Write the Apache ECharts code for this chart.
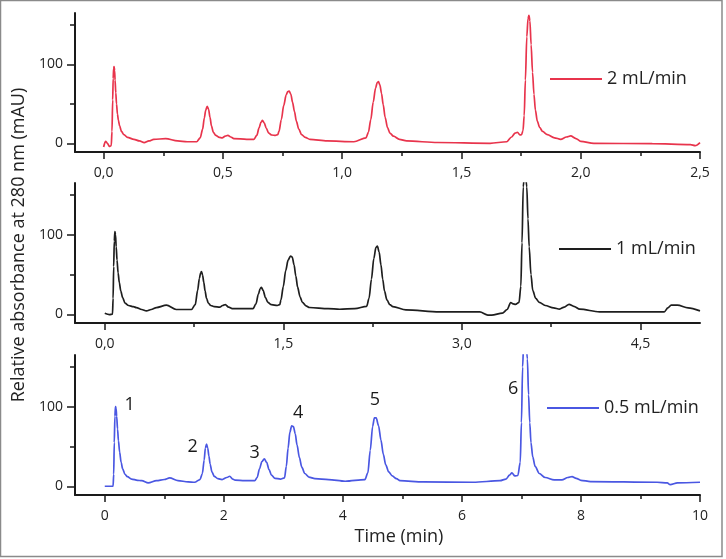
<!DOCTYPE html>
<html>
<head>
<meta charset="utf-8">
<script src="https://cdn.jsdelivr.net/npm/echarts@6/dist/echarts.min.js"></script>
<style>
html,body{margin:0;padding:0;background:#fff;}
#chart{width:726px;height:559px;}
</style>
</head>
<body>
<div id="chart"></div>
<script>
// ---- Data ----
const seriesNames = ['2 mL/min', '1 mL/min', '0.5 mL/min'];

// 2 mL/min (top panel)
const t2 = [0,0.008,0.016,0.024,0.032,0.035,0.038,0.04,0.042,0.044,0.046,0.048,0.051,0.054,0.058,0.062,0.067,0.075,0.085,0.1,0.127,0.15,0.17,0.19,0.21,0.26,0.31,0.35,0.39,0.405,0.415,0.422,0.428,0.434,0.44,0.446,0.452,0.46,0.47,0.485,0.497,0.51,0.521,0.533,0.546,0.6,0.63,0.642,0.652,0.66,0.666,0.673,0.682,0.692,0.705,0.72,0.73,0.735,0.745,0.755,0.765,0.772,0.778,0.785,0.792,0.8,0.808,0.818,0.83,0.845,0.865,0.937,1.049,1.1,1.11,1.12,1.13,1.14,1.147,1.152,1.158,1.165,1.172,1.18,1.19,1.2,1.215,1.24,1.27,1.4,1.62,1.69,1.71,1.725,1.735,1.745,1.752,1.758,1.763,1.768,1.774,1.779,1.783,1.787,1.792,1.798,1.804,1.81,1.818,1.828,1.84,1.86,1.89,1.916,1.94,1.958,1.98,2.0,2.055,2.3,2.46,2.48,2.5];
const v2 = [-4.6,2.5,0,-4,-3,15,55,82,95,97,92,80,64,50,37,29,22,15,11,7.5,5,3,0.8,3,5,5.9,3,2,2,7,18,32,42,46.8,43,33,22,14,10,7.5,7,9,10,8,6,5,5,10,20,27,29,26,19,13,10.5,10,11,15,30,48,61,65.5,66,62,52,40,28,18,11,7.5,5,3,2,7,14,30,52,70,77,78,74,63,49,33,20,13,9,5,3,1,0,2,8,13,14,10.5,11,16,35,80,135,158,162,155,125,90,62,42,28,20,15,11,7,5,8,9.3,6,2.5,0,-0.5,-1.7,-2.9,1];

// 1 mL/min (middle panel)
const t1 = [0,0.04,0.065,0.07,0.075,0.08,0.085,0.09,0.096,0.103,0.112,0.122,0.135,0.15,0.17,0.2,0.24,0.266,0.31,0.35,0.39,0.434,0.518,0.6,0.728,0.76,0.78,0.795,0.805,0.813,0.822,0.832,0.843,0.855,0.87,0.89,0.92,0.966,0.99,1.013,1.04,1.077,1.19,1.245,1.27,1.29,1.305,1.316,1.33,1.35,1.37,1.4,1.45,1.47,1.48,1.5,1.52,1.54,1.56,1.575,1.59,1.605,1.62,1.64,1.66,1.69,1.72,1.876,1.973,2.1,2.2,2.22,2.24,2.26,2.278,2.29,2.305,2.32,2.335,2.35,2.37,2.395,2.42,2.53,2.81,3.15,3.218,3.25,3.34,3.38,3.41,3.43,3.45,3.48,3.495,3.505,3.515,3.53,3.545,3.555,3.565,3.58,3.595,3.62,3.65,3.7,3.77,3.82,3.86,3.9,3.94,3.99,4.156,4.7,4.73,4.758,4.81,4.9,5.0];
const v1 = [1.3,-0.4,0,20,60,92,104,100,85,68,52,40,29,21,14,11,9.5,8.4,6,4.2,6,8.4,11.4,6,6,12,30,45,52,53.6,49,40,29,20,14,11,9.5,9,11,12.2,9,7,7,7,13,25,32,33.8,30,21,15,12,11,12,18,35,55,68,73,72,62,48,34,22,15,10.5,8.5,7,6.3,7,10,20,44,70,84,85.6,78,62,44,29,18,12,9.5,5.5,3,3,-1,-1,1.3,6,14.8,13,12.5,15,35,90,160,185,160,120,85,50,30,20,15,11,8,6.5,9,12.5,10,6.5,3,3,8,11.4,11.4,8,4.2];

// 0.5 mL/min (bottom panel)
const t05 = [0,0.14,0.15,0.16,0.17,0.18,0.19,0.2,0.215,0.23,0.25,0.275,0.3,0.34,0.38,0.45,0.55,0.62,0.73,0.87,1.0,1.09,1.23,1.4,1.51,1.6,1.64,1.67,1.69,1.71,1.73,1.75,1.77,1.8,1.84,1.9,1.97,2.05,2.1,2.15,2.19,2.35,2.52,2.56,2.6,2.64,2.68,2.72,2.76,2.8,2.86,2.95,3.02,3.05,3.08,3.11,3.14,3.17,3.2,3.23,3.27,3.31,3.36,3.43,3.53,3.76,4.04,4.37,4.42,4.46,4.5,4.53,4.56,4.6,4.64,4.68,4.72,4.77,4.83,4.9,4.96,5.35,6.19,6.64,6.74,6.8,6.84,6.89,6.94,6.98,7.0,7.02,7.04,7.07,7.1,7.12,7.14,7.16,7.19,7.23,7.3,7.4,7.55,7.68,7.78,7.85,7.92,8.0,8.16,9.28,9.45,9.5,9.62,10];
const v05 = [0,0,15,55,88,100,98,88,72,57,43,30,22,15,12,9,7.5,7,4.2,7,8.5,10.5,7,5.5,5,8.4,16,33,48,53,48,38,28,18,12.5,9.5,8.4,11,12.6,9,7.6,7,7,11,22,31,34.5,30,21,14,10,9,10.5,25,48,68,76,75,66,52,36,24,16,11.5,9.6,8.4,6.3,8.4,17,45,75,86,86,76,58,40,27,18,13,9.5,7,5.5,5,7,9,14,16.8,13,13.5,30,80,150,185,190,160,115,80,55,37,25,16,11,8,8,11,12.2,10,7.5,5.9,5,4.2,2,4.2,5];

// Peak numbers (bottom panel) and where their text sits, in data units
const peakNames = ['1','2','3','4','5','6'];
const peakLabelT = [0.42,1.475,2.52,3.25,4.54,6.86];
const peakLabelV = [102,50,42.4,92.8,109,122];

// Axis ticks
const xMajor = [[0,0.5,1.0,1.5,2.0,2.5],[0,1.5,3.0,4.5],[0,2,4,6,8,10]];
const xMinor = [[0.25,0.75,1.25,1.75,2.25],[0.75,2.25,3.75],[1,3,5,7,9]];
const xRange = [[-0.12,2.5],[-0.25,5],[-0.5,10]];
const yMajor = [0,100];
const yMinor = [50,150];
const yRange = [-11,165];

const colors = ['#e8344c','#1e1e1e','#4a57e2'];
const allT = [t2,t1,t05];
const allV = [v2,v1,v05];

// ---- Layout ----
const FONT = 'Open Sans';
const grids = [
  {left:75, right:26, top:13, height:139},
  {left:75, right:26, top:183, height:140},
  {left:75, right:26, top:355, height:140}
];
const legendPos = [{left:550, top:70},{left:559, top:240},{left:547, top:399}];

const xAxes = [], yAxes = [], series = [], legends = [];
for (let i = 0; i < 3; i++) {
  const dec = i < 2;
  xAxes.push({
    type:'value', gridIndex:i, min:xRange[i][0], max:xRange[i][1], position:'bottom',
    axisLine:{show:true, onZero:false, lineStyle:{color:'#1a1a1a', width:2}},
    axisTick:{show:true, customValues:xMajor[i], length:7, lineStyle:{color:'#1a1a1a', width:1.5}},
    axisLabel:{show:true, customValues:xMajor[i], margin:14, color:'#222', fontSize:14, fontFamily:FONT,
      formatter: v => dec ? v.toFixed(1).replace('.', ',') : String(Math.round(v))},
    splitLine:{show:false}
  });
  xAxes.push({
    type:'value', gridIndex:i, min:xRange[i][0], max:xRange[i][1], position:'bottom',
    axisLine:{show:false, onZero:false},
    axisTick:{show:true, customValues:xMinor[i], length:4, lineStyle:{color:'#1a1a1a', width:1.5}},
    axisLabel:{show:false}, splitLine:{show:false}
  });
  yAxes.push({
    type:'value', gridIndex:i, min:yRange[0], max:yRange[1], position:'left',
    axisLine:{show:true, onZero:false, lineStyle:{color:'#1a1a1a', width:2}},
    axisTick:{show:true, customValues:yMajor, length:8, lineStyle:{color:'#1a1a1a', width:1.5}},
    axisLabel:{show:true, customValues:yMajor, margin:12, color:'#222', fontSize:14, fontFamily:FONT},
    splitLine:{show:false}
  });
  yAxes.push({
    type:'value', gridIndex:i, min:yRange[0], max:yRange[1], position:'left',
    axisLine:{show:false, onZero:false},
    axisTick:{show:true, customValues:yMinor, length:5, lineStyle:{color:'#1a1a1a', width:1.5}},
    axisLabel:{show:false}, splitLine:{show:false}
  });
  const data = allT[i].map((t, k) => [t, allV[i][k]]);
  series.push({
    name:seriesNames[i], type:'line', xAxisIndex:2*i, yAxisIndex:2*i, data,
    showSymbol:false, smooth:0.3, smoothMonotone:'x', clip:true,
    color:colors[i], lineStyle:{color:colors[i], width:1.7}
  });
  legends.push({
    data:[seriesNames[i]], left:legendPos[i].left, top:legendPos[i].top, padding:0,
    icon:'rect', itemWidth:52, itemHeight:2, selectedMode:false,
    textStyle:{color:'#222', fontSize:18, fontFamily:FONT}
  });
}
series.push({
  type:'scatter', xAxisIndex:4, yAxisIndex:4, symbolSize:0,
  itemStyle:{color:'#222', opacity:1},
  data: peakNames.map((n, k) => ({name:n, value:[peakLabelT[k], peakLabelV[k]]})),
  label:{show:true, position:'inside', formatter:p => p.name, color:'#1a1a1a', opacity:1,
    textBorderWidth:0, textBorderColor:'transparent', fontSize:18, fontFamily:FONT},
  emphasis:{disabled:true}
});

const chart = echarts.init(document.getElementById('chart'), null, {renderer:'canvas'});
chart.setOption({
  animation:false,
  backgroundColor:'#fff',
  grid:grids,
  xAxis:xAxes,
  yAxis:yAxes,
  legend:legends,
  series,
  graphic:[
    {type:'rect', shape:{x:0.5, y:0.5, width:721.5, height:556}, style:{fill:'none', stroke:'#8a8a8a', lineWidth:1.5}, silent:true},
    {type:'text', x:19, y:245, rotation:Math.PI/2, style:{text:'Relative absorbance at 280 nm (mAU)', fill:'#222', font:'18px "Open Sans"', align:'center', verticalAlign:'middle'}},
    {type:'text', x:399, y:537, style:{text:'Time (min)', fill:'#222', font:'18px "Open Sans"', align:'center', verticalAlign:'middle'}}
  ]
});
</script>
</body>
</html>
